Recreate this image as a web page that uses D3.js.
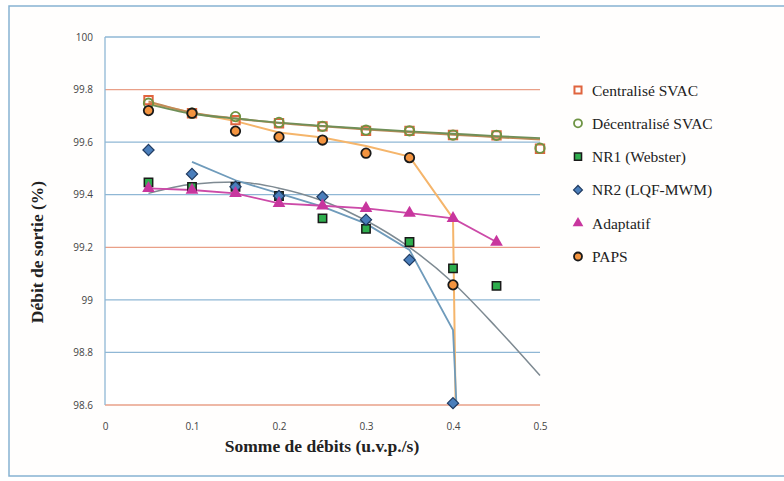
<!DOCTYPE html>
<html>
<head>
<meta charset="utf-8">
<script src="https://cdn.jsdelivr.net/npm/d3@7"></script>
<style>
  body { margin: 0; background: #fff; }
  svg { display: block; }
</style>
</head>
<body>
<div id="chart"></div>
<script>
// débits (x) for the measured points
var debits = [0.05, 0.1, 0.15, 0.2, 0.25, 0.3, 0.35, 0.4, 0.45, 0.5];

var centralise   = [99.76, 99.71, 99.684, 99.672, 99.66, 99.643, 99.643, 99.627, 99.626, 99.575];
var decentralise = [99.748, 99.71, 99.697, 99.675, 99.66, 99.646, 99.643, 99.627, 99.626, 99.577];
var nr1          = [99.447, 99.43, 99.43, 99.395, 99.31, 99.27, 99.22, 99.12, 99.053];
var nr2          = [99.57, 99.479, 99.43, 99.395, 99.392, 99.305, 99.152, 98.607];
var adaptatif    = [99.424, 99.418, 99.405, 99.367, 99.358, 99.348, 99.33, 99.31, 99.22];
var paps         = [99.72, 99.71, 99.642, 99.62, 99.608, 99.558, 99.541, 99.057];

// tendency curves as drawn on the chart
var centraliseTrendX   = [0.05, 0.1, 0.15, 0.2, 0.25, 0.3, 0.35, 0.4, 0.45, 0.5];
var centraliseTrend    = [99.755, 99.712, 99.69, 99.673, 99.66, 99.648, 99.638, 99.628, 99.619, 99.61];
var decentraliseTrendX = [0.05, 0.1, 0.15, 0.2, 0.25, 0.3, 0.35, 0.4, 0.45, 0.5];
var decentraliseTrend  = [99.745, 99.708, 99.69, 99.674, 99.662, 99.651, 99.641, 99.632, 99.623, 99.615];
var nr1TrendX  = [0.05, 0.1, 0.15, 0.2, 0.25, 0.3, 0.35, 0.4, 0.45, 0.5];
var nr1Trend   = [99.405, 99.44, 99.448, 99.425, 99.377, 99.302, 99.2, 99.065, 98.895, 98.712];
var nr2TrendX  = [0.1, 0.15, 0.2, 0.25, 0.3, 0.35, 0.4, 0.404];
var nr2Trend   = [99.525, 99.455, 99.405, 99.355, 99.29, 99.19, 98.885, 98.6];
var papsLineX  = [0.05, 0.1, 0.15, 0.2, 0.25, 0.3, 0.35, 0.4, 0.403];
var papsLine   = [99.75, 99.712, 99.68, 99.637, 99.618, 99.585, 99.545, 99.31, 98.6];

var yTicks = [98.6, 98.8, 99, 99.2, 99.4, 99.6, 99.8, 100];
var xTicks = [0, 0.1, 0.2, 0.3, 0.4, 0.5];
var seriesNames = ["Centralisé SVAC", "Décentralisé SVAC", "NR1 (Webster)", "NR2 (LQF-MWM)", "Adaptatif", "PAPS"];

var w = 784, h = 481;

var svg = d3.select("#chart").append("svg")
    .attr("width", w)
    .attr("height", h);

// outer frame
svg.append("rect")
    .attr("x", 9).attr("y", 6)
    .attr("width", w + 10).attr("height", 470)
    .attr("fill", "#fffefd")
    .attr("stroke", "#86b2d2")
    .attr("stroke-width", 1.5);

var x = d3.scaleLinear().domain([0, 0.5]).range([105, 540]);
var y = d3.scaleLinear().domain([98.6, 100]).range([405, 37]);

// plot area
svg.append("rect")
    .attr("x", x(0)).attr("y", y(100))
    .attr("width", x(0.5) - x(0)).attr("height", y(98.6) - y(100))
    .attr("fill", "#fff");

// gridlines
svg.append("g").selectAll("line")
    .data(yTicks)
    .enter().append("line")
    .attr("x1", x(0)).attr("x2", x(0.5))
    .attr("y1", d => y(d)).attr("y2", d => y(d))
    .attr("stroke", (d, i) => (i % 3 === 0) ? "#e9a088" : "#8fb7d5")
    .attr("stroke-width", 1.3);

svg.append("line")
    .attr("x1", x(0)).attr("x2", x(0))
    .attr("y1", y(100)).attr("y2", y(98.6))
    .attr("stroke", "#8fb7d5").attr("stroke-width", 1.3);

// axes (labels only)
var yAxis = svg.append("g")
    .attr("transform", "translate(" + x(0) + ",0)")
    .call(d3.axisLeft(y).tickValues(yTicks).tickSize(0).tickPadding(12).tickFormat(d3.format("")));
var xAxis = svg.append("g")
    .attr("transform", "translate(0," + y(98.6) + ")")
    .call(d3.axisBottom(x).tickValues(xTicks).tickSize(0).tickPadding(18).tickFormat(d3.format("")));
[yAxis, xAxis].forEach(function (a) {
    a.select(".domain").remove();
    a.selectAll("text")
        .style("font-family", "'Open Sans', sans-serif")
        .style("font-size", "10px")
        .attr("fill", "#444");
});

svg.append("text")
    .attr("x", 322).attr("y", 452)
    .attr("text-anchor", "middle")
    .style("font-family", "'Liberation Serif', serif")
    .style("font-weight", "bold")
    .style("font-size", "17.5px")
    .attr("fill", "#222")
    .text("Somme de débits (u.v.p./s)");

svg.append("text")
    .attr("transform", "rotate(-90)")
    .attr("x", -252).attr("y", 43)
    .attr("text-anchor", "middle")
    .style("font-family", "'Liberation Serif', serif")
    .style("font-weight", "bold")
    .style("font-size", "17.5px")
    .attr("fill", "#222")
    .text("Débit de sortie (%)");

// lines
function drawLine(xs, ys, color, width, curve) {
    var pts = xs.map((d, i) => [d, ys[i]]);
    svg.append("path")
        .datum(pts)
        .attr("fill", "none")
        .attr("stroke", color)
        .attr("stroke-width", width)
        .attr("d", d3.line().x(d => x(d[0])).y(d => y(d[1])).curve(curve));
}
drawLine(papsLineX, papsLine, "#f5b56b", 2, d3.curveLinear);
drawLine(centraliseTrendX, centraliseTrend, "#c08a58", 2, d3.curveMonotoneX);
drawLine(decentraliseTrendX, decentraliseTrend, "#6f8f58", 1.8, d3.curveMonotoneX);
drawLine(nr1TrendX, nr1Trend, "#7e8a92", 1.5, d3.curveMonotoneX);
drawLine(nr2TrendX, nr2Trend, "#6f9bbb", 1.8, d3.curveLinear);
drawLine(debits.slice(0, adaptatif.length), adaptatif, "#cc4aa8", 1.8, d3.curveLinear);

// markers
var shapes = {
    square: d3.symbolSquare, circle: d3.symbolCircle,
    diamond: d3.symbolDiamond2, triangle: d3.symbolTriangle
};
var styles = [
    { shape: "square", fill: "none", stroke: "#e0643e", sw: 2 },
    { shape: "circle", fill: "none", stroke: "#6e9444", sw: 1.8 },
    { shape: "square", fill: "#2fae4e", stroke: "#1a1a1a", sw: 1.5 },
    { shape: "diamond", fill: "#4a7ebb", stroke: "#1f3a60", sw: 1.2 },
    { shape: "triangle", fill: "#c8369e", stroke: "none", sw: 0 },
    { shape: "circle", fill: "#f39440", stroke: "#1a1a1a", sw: 1.8 }
];
var sizes = { square: 70, circle: 70, diamond: 80, triangle: 70 };
var values = [centralise, decentralise, nr1, nr2, adaptatif, paps];

values.forEach(function (vals, s) {
    var st = styles[s];
    svg.append("g").selectAll("path")
        .data(vals)
        .enter().append("path")
        .attr("transform", (d, i) => "translate(" + x(debits[i]) + "," + y(d) + ")")
        .attr("d", d3.symbol().type(shapes[st.shape]).size(sizes[st.shape]))
        .attr("fill", st.fill)
        .attr("stroke", st.stroke)
        .attr("stroke-width", st.sw);
});

// legend
var legend = svg.append("g").selectAll("g")
    .data(seriesNames)
    .enter().append("g")
    .attr("transform", (d, i) => "translate(578," + (90 + i * 33.3) + ")");

legend.append("path")
    .attr("d", (d, i) => d3.symbol().type(shapes[styles[i].shape]).size(50)())
    .attr("fill", (d, i) => styles[i].fill)
    .attr("stroke", (d, i) => styles[i].stroke)
    .attr("stroke-width", (d, i) => styles[i].sw);

legend.append("text")
    .attr("x", 14).attr("y", 5.5)
    .style("font-family", "'Liberation Serif', serif")
    .style("font-size", "15.5px")
    .attr("fill", "#222")
    .text(d => d);
</script>
</body>
</html>
